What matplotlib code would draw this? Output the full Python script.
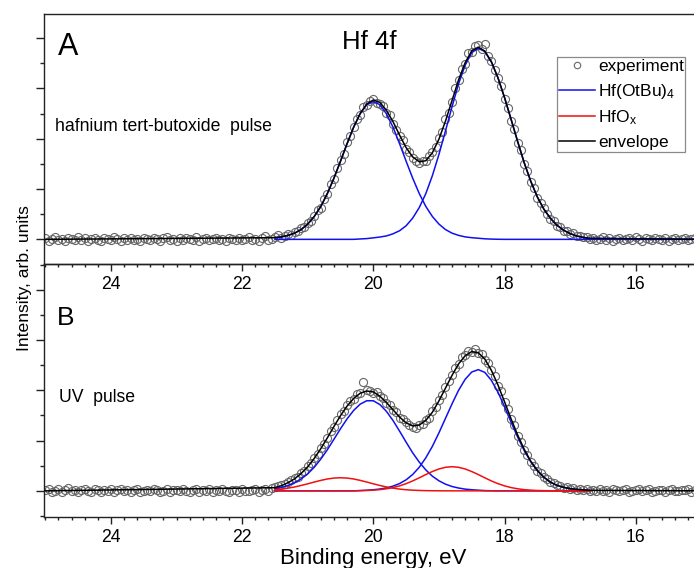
"""
hf4f_fit.py
-----------
Hf 4f photoemission spectra after the hafnium tert-butoxide pulse (A) and
after the UV pulse (B), with the fitted Hf(OtBu)4 / HfOx components and the
resulting envelope.
"""

import numpy as np
import matplotlib.pyplot as plt
from matplotlib.ticker import MultipleLocator

plt.rcParams["font.family"] = ["Liberation Sans", "DejaVu Sans"]
plt.rcParams["mathtext.default"] = "regular"

# ── Measured spectra (0.05 eV steps starting at 25 eV) ───────────────────────
EXP_E0   = 25.0
EXP_STEP = 0.05

EXP_A = [
    # 25.00 .. 21.55
    0.02, -0.03, 0.01, 0.04, -0.02, 0.00, -0.04, 0.03, 0.01, -0.01,
    0.05, -0.02, 0.02, -0.03, 0.00, 0.03, -0.01, -0.04, 0.02, 0.01,
    -0.02, 0.04, 0.00, -0.03, 0.02, -0.01, 0.03, -0.02, 0.01, -0.04,
    0.02, 0.00, -0.02, 0.03, 0.01, -0.03, 0.02, 0.05, -0.01, 0.00,
    -0.03, 0.02, -0.01, 0.03, 0.00, -0.02, 0.04, -0.03, 0.01, 0.02,
    -0.01, 0.00, 0.03, -0.02, 0.01, -0.04, 0.02, 0.00, -0.01, 0.03,
    -0.02, 0.01, 0.04, -0.01, 0.00, -0.03, 0.02, 0.06, -0.02, 0.01,
    # 21.50 .. 16.70
    0.05, 0.08, 0.03, 0.07, 0.10, 0.09, 0.14, 0.17, 0.22, 0.24,
    0.33, 0.36, 0.47, 0.58, 0.63, 0.80, 0.90, 1.10, 1.20, 1.41,
    1.57, 1.70, 1.93, 2.05, 2.24, 2.40, 2.47, 2.63, 2.68, 2.76,
    2.80, 2.72, 2.70, 2.66, 2.52, 2.47, 2.30, 2.18, 2.05, 1.97,
    1.79, 1.74, 1.62, 1.56, 1.52, 1.56, 1.55, 1.66, 1.73, 1.84,
    2.02, 2.14, 2.40, 2.52, 2.74, 3.00, 3.16, 3.38, 3.48, 3.70,
    3.72, 3.84, 3.86, 3.78, 3.88, 3.64, 3.55, 3.36, 3.20, 3.04,
    2.80, 2.62, 2.36, 2.20, 1.92, 1.78, 1.50, 1.36, 1.14, 1.02,
    0.82, 0.73, 0.62, 0.50, 0.40, 0.37, 0.26, 0.24, 0.17, 0.16,
    0.10, 0.12, 0.06, 0.07, 0.04, 0.05, 0.01,
    # 16.65 .. 15.10
    0.03, -0.02, 0.01, 0.04, -0.01, 0.02, -0.03, 0.00, 0.03, -0.02,
    0.01, 0.02, -0.01, 0.04, 0.00, -0.03, 0.02, 0.01, -0.02, 0.03,
    0.00, -0.01, 0.02, -0.03, 0.01, 0.03, -0.02, 0.00, 0.02, -0.01,
    0.01, 0.03,
]

EXP_B = [
    # 25.00 .. 21.55
    0.01, 0.04, -0.02, 0.00, 0.03, -0.03, 0.02, 0.05, -0.01, 0.02,
    -0.03, 0.01, 0.04, 0.00, -0.02, 0.03, 0.01, -0.03, 0.02, 0.00,
    0.03, -0.02, 0.01, 0.04, -0.01, 0.02, -0.03, 0.01, 0.03, -0.02,
    0.00, 0.02, -0.01, 0.04, 0.01, -0.03, 0.00, 0.03, -0.02, 0.02,
    0.01, -0.01, 0.03, 0.00, -0.03, 0.02, 0.04, -0.02, 0.01, 0.00,
    0.03, -0.02, 0.02, -0.01, 0.04, 0.00, -0.03, 0.02, 0.01, -0.02,
    0.03, 0.00, -0.01, 0.02, 0.04, -0.02, 0.01, 0.03, 0.00, 0.05,
    # 21.50 .. 16.70
    0.07, 0.10, 0.12, 0.13, 0.17, 0.21, 0.25, 0.28, 0.35, 0.40,
    0.50, 0.55, 0.66, 0.74, 0.86, 0.94, 1.06, 1.18, 1.27, 1.40,
    1.52, 1.58, 1.70, 1.78, 1.82, 1.92, 1.95, 2.17, 2.00, 1.99,
    1.95, 1.97, 1.88, 1.84, 1.75, 1.70, 1.60, 1.56, 1.45, 1.42,
    1.36, 1.30, 1.27, 1.24, 1.30, 1.33, 1.41, 1.45, 1.58, 1.66,
    1.80, 1.90, 2.06, 2.18, 2.30, 2.45, 2.52, 2.66, 2.70, 2.78,
    2.77, 2.83, 2.74, 2.72, 2.60, 2.55, 2.40, 2.28, 2.08, 1.98,
    1.76, 1.62, 1.42, 1.30, 1.10, 0.98, 0.82, 0.72, 0.58, 0.50,
    0.40, 0.36, 0.27, 0.24, 0.17, 0.15, 0.12, 0.09, 0.06, 0.07,
    0.04, 0.05, 0.02, 0.04, 0.01, 0.03, 0.00,
    # 16.65 .. 15.10
    0.02, -0.01, 0.03, 0.00, 0.02, -0.02, 0.04, 0.01, -0.01, 0.02,
    0.03, -0.02, 0.00, 0.02, 0.04, -0.01, 0.01, 0.03, -0.02, 0.00,
    0.02, 0.01, -0.03, 0.02, 0.04, 0.00, -0.01, 0.02, 0.01, 0.03,
    -0.02, 0.01,
]

# ── Fit components ───────────────────────────────────────────────────────────
FIT_E = [
    21.5, 21.4, 21.3, 21.2, 21.1, 21.0, 20.9, 20.8, 20.7, 20.6,
    20.5, 20.4, 20.3, 20.2, 20.1, 20.0, 19.9, 19.8, 19.7, 19.6,
    19.5, 19.4, 19.3, 19.2, 19.1, 19.0, 18.9, 18.8, 18.7, 18.6,
    18.5, 18.4, 18.3, 18.2, 18.1, 18.0, 17.9, 17.8, 17.7, 17.6,
    17.5, 17.4, 17.3, 17.2, 17.1, 17.0, 16.9, 16.8, 16.7,
]
E_LOW, E_HIGH = 15.0, 25.0   # ends of the flat baseline

# panel A: two Hf(OtBu)4 doublet lines (flat tail carried to E_LOW)
A_OTBU_52 = [
    0.033, 0.049, 0.079, 0.123, 0.195, 0.304, 0.455, 0.655, 0.912, 1.217,
    1.554, 1.902, 2.230, 2.496, 2.677, 2.740, 2.677, 2.496, 2.230, 1.902,
    1.554, 1.217, 0.912, 0.655, 0.455, 0.304, 0.195, 0.123, 0.079, 0.049,
    0.033, 0.022, 0.011, 0.005, 0.002, 0.0, 0.0, 0.0, 0.0, 0.0,
    0.0, 0.0, 0.0, 0.0, 0.0, 0.0, 0.0, 0.0, 0.0, 0.0,
]
A_OTBU_72 = [
    0.0, 0.0, 0.0, 0.0, 0.0, 0.0, 0.0, 0.0, 0.0, 0.0,
    0.0, 0.0, 0.0, 0.008, 0.015, 0.030, 0.046, 0.068, 0.110, 0.171,
    0.270, 0.422, 0.631, 0.908, 1.265, 1.687, 2.155, 2.637, 3.093, 3.462,
    3.713, 3.800, 3.732, 3.526, 3.211, 2.820, 2.386, 1.946, 1.524, 1.155,
    0.844, 0.600, 0.418, 0.281, 0.182, 0.114, 0.068, 0.038, 0.019, 0.0,
]
A_ENVELOPE = [
    0.0,
    0.033, 0.049, 0.079, 0.123, 0.195, 0.304, 0.455, 0.655, 0.912, 1.217,
    1.554, 1.902, 2.230, 2.504, 2.692, 2.770, 2.723, 2.564, 2.340, 2.073,
    1.824, 1.639, 1.543, 1.563, 1.720, 1.991, 2.350, 2.760, 3.172, 3.511,
    3.746, 3.822, 3.743, 3.531, 3.213, 2.820, 2.386, 1.946, 1.524, 1.155,
    0.844, 0.600, 0.418, 0.281, 0.182, 0.114, 0.068, 0.038, 0.019,
    0.0,
]

# panel B: Hf(OtBu)4 and HfOx doublets
B_OTBU_52 = [
    0.041, 0.068, 0.108, 0.162, 0.238, 0.338, 0.470, 0.632, 0.819, 1.026,
    1.235, 1.431, 1.598, 1.724, 1.791, 1.791, 1.715, 1.580, 1.399, 1.188,
    0.968, 0.756, 0.572, 0.416, 0.292, 0.200, 0.133, 0.086, 0.056, 0.034,
    0.022, 0.013, 0.005, 0.002, 0.0, 0.0, 0.0, 0.0, 0.0, 0.0,
    0.0, 0.0, 0.0, 0.0, 0.0, 0.0, 0.0, 0.0, 0.0,
]
B_OTBU_72 = [
    0.0, 0.0, 0.0, 0.0, 0.0, 0.0, 0.0, 0.0, 0.0, 0.0,
    0.0, 0.0, 0.0, 0.005, 0.012, 0.022, 0.036, 0.058, 0.094, 0.145,
    0.219, 0.325, 0.468, 0.656, 0.884, 1.152, 1.441, 1.730, 2.000, 2.217,
    2.362, 2.410, 2.355, 2.196, 1.962, 1.673, 1.366, 1.070, 0.803, 0.576,
    0.400, 0.268, 0.171, 0.108, 0.070, 0.043, 0.029, 0.019, 0.010,
]
B_HFOX_52 = [
    0.022, 0.035, 0.054, 0.077, 0.107, 0.140, 0.175, 0.208, 0.236, 0.254,
    0.260, 0.254, 0.236, 0.208, 0.175, 0.140, 0.107, 0.077, 0.054, 0.035,
    0.022, 0.013, 0.008, 0.004, 0.002, 0.001, 0.0, 0.0, 0.0, 0.0,
    0.0, 0.0, 0.0, 0.0, 0.0, 0.0, 0.0, 0.0, 0.0, 0.0,
    0.0, 0.0, 0.0, 0.0, 0.0, 0.0, 0.0, 0.0, 0.0,
]
B_HFOX_72 = [
    0.0, 0.0, 0.0, 0.0, 0.0, 0.0, 0.0, 0.0, 0.0, 0.0,
    0.0, 0.0, 0.0, 0.004, 0.007, 0.014, 0.024, 0.041, 0.065, 0.099,
    0.143, 0.197, 0.259, 0.324, 0.384, 0.435, 0.468, 0.480, 0.468, 0.435,
    0.384, 0.324, 0.259, 0.197, 0.143, 0.099, 0.065, 0.041, 0.024, 0.014,
    0.007, 0.004, 0.002, 0.001, 0.0, 0.0, 0.0, 0.0, 0.0,
]
B_ENVELOPE = [
    0.0,
    0.063, 0.103, 0.162, 0.239, 0.345, 0.478, 0.645, 0.840, 1.055, 1.280,
    1.495, 1.685, 1.836, 1.941, 1.985, 1.967, 1.882, 1.756, 1.612, 1.467,
    1.352, 1.291, 1.307, 1.400, 1.562, 1.788, 2.042, 2.296, 2.524, 2.686,
    2.768, 2.747, 2.619, 2.395, 2.105, 1.772, 1.431, 1.111, 0.827, 0.590,
    0.407, 0.272, 0.173, 0.109, 0.070, 0.043, 0.029, 0.019, 0.010,
    0.0,
]

# ── Styling ──────────────────────────────────────────────────────────────────
C_EXP   = "#666666"
C_OTBU  = "#1010f0"
C_HFOX  = "#f01010"
C_ENV   = "#000000"
C_AXIS  = "#222222"
LW      = 1.1
SAVE_PATH = "out.png"


def style_axis(ax, ylim):
    ax.set_facecolor("none")
    ax.set_xlim(25.02, 15.02)
    ax.set_ylim(*ylim)
    ax.xaxis.set_major_locator(MultipleLocator(2))
    ax.xaxis.set_minor_locator(MultipleLocator(0.2))
    ax.yaxis.set_major_locator(MultipleLocator(1))
    ax.yaxis.set_minor_locator(MultipleLocator(0.5))
    ax.set_yticklabels([])
    ax.tick_params(axis="x", which="both", direction="out", top=False,
                   labelsize=12.7, pad=3.5, color=C_AXIS, width=1.0)
    ax.tick_params(axis="x", which="major", length=5)
    ax.tick_params(axis="x", which="minor", length=2.5)
    ax.tick_params(axis="y", which="both", direction="out", right=False,
                   color=C_AXIS, width=1.0)
    ax.tick_params(axis="y", which="major", length=5.5)
    ax.tick_params(axis="y", which="minor", length=3)
    for sp in ax.spines.values():
        sp.set_color(C_AXIS)
        sp.set_linewidth(1.0)


def draw_experiment(ax, values):
    e = EXP_E0 - EXP_STEP * np.arange(len(values))
    return ax.plot(e, values, linestyle="none", marker="o", markersize=5.8,
                   markerfacecolor="none", markeredgecolor=C_EXP,
                   markeredgewidth=0.8, zorder=1)[0]


def main():
    fig = plt.figure(figsize=(6.94, 5.68), dpi=100)
    fig.patch.set_facecolor("white")

    W, H = 694.0, 568.0
    left, right = 44 / W, 700 / W
    ax_a = fig.add_axes([left, (H - 264) / H, right - left, 250 / H])
    ax_b = fig.add_axes([left, (H - 517) / H, right - left, 253 / H])

    style_axis(ax_a, (-0.49, 4.48))
    style_axis(ax_b, (-0.52, 4.51))

    env_e = [E_HIGH] + FIT_E + [E_LOW]

    # ── A: precursor pulse ──
    h_exp = draw_experiment(ax_a, EXP_A)
    h_otbu, = ax_a.plot(FIT_E + [E_LOW], A_OTBU_52, color=C_OTBU, lw=LW, zorder=2)
    ax_a.plot(FIT_E + [E_LOW], A_OTBU_72, color=C_OTBU, lw=LW, zorder=2)
    h_env, = ax_a.plot(env_e, A_ENVELOPE, color=C_ENV, lw=LW, zorder=3)

    # ── B: UV pulse ──
    draw_experiment(ax_b, EXP_B)
    ax_b.plot(FIT_E, B_OTBU_52, color=C_OTBU, lw=LW, zorder=2)
    ax_b.plot(FIT_E, B_OTBU_72, color=C_OTBU, lw=LW, zorder=2)
    h_hfox, = ax_b.plot(FIT_E, B_HFOX_52, color=C_HFOX, lw=LW, zorder=2)
    ax_b.plot(FIT_E, B_HFOX_72, color=C_HFOX, lw=LW, zorder=2)
    ax_b.plot(env_e, B_ENVELOPE, color=C_ENV, lw=LW, zorder=3)

    # ── Annotations ──
    fig.text(58 / W, (H - 55) / H, "A", fontsize=22, va="baseline")
    fig.text(57 / W, (H - 325) / H, "B", fontsize=19, va="baseline")
    fig.text(369 / W, (H - 49) / H, "Hf 4f", fontsize=18.5, ha="center",
             va="baseline")
    fig.text(55 / W, (H - 131) / H, "hafnium tert-butoxide  pulse",
             fontsize=12.7, va="baseline")
    fig.text(59 / W, (H - 402) / H, "UV  pulse", fontsize=12.7, va="baseline")
    fig.text(373 / W, (H - 564) / H, "Binding energy, eV", fontsize=16,
             ha="center", va="baseline")
    fig.text(24 / W, (H - 278) / H, "Intensity, arb. units", fontsize=12.6,
             rotation=90, ha="center", va="center")

    leg = ax_a.legend(
        [h_exp, h_otbu, h_hfox, h_env],
        ["experiment", "Hf(OtBu)$_4$", "HfO$_x$", "envelope"],
        loc="upper left", bbox_to_anchor=(557 / W, (H - 57) / H),
        bbox_transform=fig.transFigure, borderaxespad=0, borderpad=0.1,
        fontsize=12.5, numpoints=1, handlelength=2.1, handletextpad=0.15,
        labelspacing=0.45, fancybox=False, framealpha=1.0, markerscale=0.8,
    )
    leg.get_frame().set_edgecolor("#8a8a8a")
    leg.get_frame().set_linewidth(0.9)

    plt.savefig(SAVE_PATH, dpi=100)
    plt.close()


if __name__ == "__main__":
    main()
